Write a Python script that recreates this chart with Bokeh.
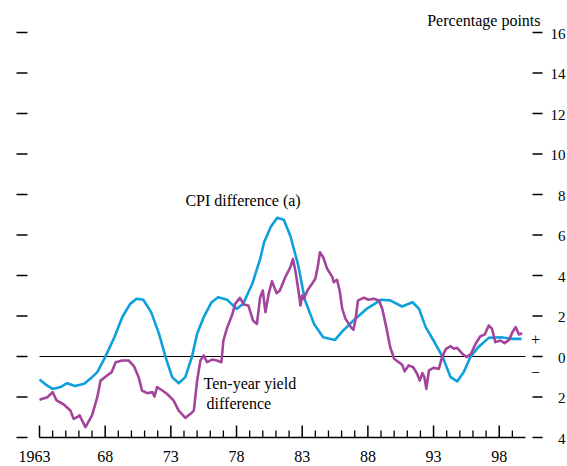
from bokeh.plotting import figure
from bokeh.models import Range1d
from bokeh.core.properties import value
from bokeh.embed import file_html
from bokeh.resources import INLINE

# ---------------- data ----------------
cpi_years = [1963.0, 1963.5, 1964.0, 1964.6, 1965.1, 1965.7, 1966.4, 1967.0, 1967.4, 1968.0,
             1968.7, 1969.3, 1969.9, 1970.4, 1970.9, 1971.5, 1972.1, 1972.6, 1973.1, 1973.6,
             1974.1, 1974.6, 1975.0, 1975.5, 1976.1, 1976.6, 1977.3, 1978.0, 1978.5, 1979.2,
             1979.8, 1980.1, 1980.6, 1981.1, 1981.6, 1982.1, 1982.7, 1983.2, 1983.9, 1984.6,
             1985.5, 1986.0, 1986.9, 1987.9, 1989.0, 1989.7, 1990.6, 1991.4, 1991.9, 1992.4,
             1993.0, 1993.7, 1994.3, 1994.8, 1995.3, 1995.8, 1996.4, 1997.2, 1998.1, 1999.0,
             1999.7]
cpi_diff = [-1.14, -1.40, -1.60, -1.51, -1.32, -1.46, -1.35, -1.02, -0.77, -0.03,
            0.95, 1.94, 2.60, 2.85, 2.80, 2.19, 1.12, -0.03, -1.02, -1.32,
            -1.02, -0.03, 1.12, 1.94, 2.68, 2.93, 2.80, 2.35, 2.60, 3.59,
            4.82, 5.64, 6.39, 6.85, 6.75, 5.95, 4.50, 2.80, 1.61, 0.95,
            0.82, 1.20, 1.78, 2.35, 2.80, 2.77, 2.47, 2.68, 2.35, 1.45,
            0.79, -0.03, -1.02, -1.23, -0.77, -0.03, 0.46, 0.92, 0.95, 0.87,
            0.87]

yield_years = [1963.0, 1963.6, 1964.0, 1964.3, 1964.85, 1965.35, 1965.6, 1965.85, 1966.05, 1966.5,
               1967.0, 1967.4, 1967.65, 1968.15, 1968.5, 1968.8, 1969.3, 1969.8, 1970.2, 1970.55,
               1970.8, 1971.2, 1971.6, 1971.75, 1971.95, 1972.35, 1972.7, 1973.2, 1973.6, 1974.1,
               1974.5, 1974.75, 1975.0, 1975.25, 1975.5, 1975.75, 1976.15, 1976.5, 1976.85, 1977.0,
               1977.3, 1977.65, 1977.9, 1978.25, 1978.55, 1978.9, 1979.25, 1979.55, 1979.8, 1980.0,
               1980.2, 1980.45, 1980.7, 1981.05, 1981.3, 1981.7, 1982.1, 1982.3, 1982.5, 1982.75,
               1982.87, 1983.0, 1983.12, 1983.4, 1983.75, 1984.0, 1984.2, 1984.35, 1984.6, 1984.9,
               1985.3, 1985.4, 1985.65, 1985.85, 1986.05, 1986.3, 1986.7, 1986.9, 1987.05, 1987.25,
               1987.7, 1988.05, 1988.45, 1988.85, 1989.1, 1989.4, 1989.7, 1990.0, 1990.35, 1990.6,
               1990.8, 1991.1, 1991.45, 1991.75, 1991.95, 1992.15, 1992.3, 1992.45, 1992.65, 1993.0,
               1993.4, 1993.65, 1993.95, 1994.3, 1994.55, 1994.8, 1995.2, 1995.5, 1995.85, 1996.2,
               1996.55, 1996.9, 1997.2, 1997.45, 1997.7, 1998.1, 1998.4, 1998.75, 1999.0, 1999.25,
               1999.5, 1999.75]
yield_diff = [-2.14, -2.01, -1.76, -2.17, -2.37, -2.67, -3.08, -3.00, -2.91, -3.49,
              -2.91, -2.01, -1.19, -0.94, -0.77, -0.28, -0.20, -0.20, -0.49, -1.02,
              -1.68, -1.81, -1.76, -1.98, -1.51, -1.68, -1.84, -2.17, -2.67, -3.03,
              -2.83, -2.67, -1.19, -0.20, 0.05, -0.28, -0.15, -0.20, -0.28, 0.79,
              1.45, 2.02, 2.60, 2.90, 2.57, 2.52, 1.78, 1.61, 2.93, 3.26,
              2.19, 3.10, 3.72, 3.13, 3.26, 3.90, 4.41, 4.82, 4.16, 3.10,
              2.52, 3.01, 2.85, 3.26, 3.59, 3.84, 4.49, 5.15, 4.90, 4.33,
              3.92, 3.67, 3.79, 3.26, 2.35, 1.86, 1.45, 1.32, 1.78, 2.77,
              2.90, 2.80, 2.85, 2.77, 2.35, 1.45, 0.46, -0.11, -0.28, -0.40,
              -0.73, -0.44, -0.53, -0.85, -1.19, -0.82, -1.02, -1.60, -0.69, -0.56,
              -0.61, -0.03, 0.38, 0.51, 0.38, 0.43, 0.13, -0.03, 0.13, 0.63,
              0.99, 1.09, 1.53, 1.37, 0.71, 0.79, 0.66, 0.82, 1.20, 1.45,
              1.09, 1.15]

year_ticks = [1963, 1968, 1973, 1978, 1983, 1988, 1993, 1998]
year_labels = ["1963", "68", "73", "78", "83", "88", "93", "98"]
minor_years = [y for y in range(1964, 2000) if y not in year_ticks]
value_ticks = [-4, -2, 0, 2, 4, 6, 8, 10, 12, 14, 16]
value_labels = ["4", "2", "0", "2", "4", "6", "8", "10", "12", "14", "16"]

# ---------------- geometry ----------------
W, H = 567, 466
XPX = 13.135          # pixels per year
YPX = 20.25           # pixels per percentage point
x_start = 1963 - 39 / XPX
x_end = x_start + W / XPX
y_end = 356 / YPX
y_start = y_end - H / YPX

def dx(px):
    return x_start + px / XPX

def dy(px):
    return y_end - px / YPX

BLUE = "#0ea0dc"
PURPLE = "#a3459c"
FONT = "Liberation Serif"

p = figure(width=W, height=H, output_backend="svg", toolbar_location=None,
           x_range=Range1d(x_start, x_end), y_range=Range1d(y_start, y_end),
           x_axis_location=None, y_axis_location=None,
           min_border=0, outline_line_color=None, background_fill_color="white",
           border_fill_color="white")
p.xgrid.visible = False
p.ygrid.visible = False

# zero line
p.line([1963, 2000], [0, 0], line_color="black", line_width=1.2)

# x axis (line, major & minor ticks)
p.line([1963, 2000], [-4, -4], line_color="black", line_width=1.5)
p.segment(x0=year_ticks, y0=[-4] * len(year_ticks), x1=year_ticks,
          y1=[-4 + 12 / YPX] * len(year_ticks), line_color="black", line_width=1.5)
p.segment(x0=minor_years, y0=[-4] * len(minor_years), x1=minor_years,
          y1=[-4 + 7 / YPX] * len(minor_years), line_color="black", line_width=1.3)

# value dashes on both sides
n = len(value_ticks)
p.segment(x0=[dx(16)] * n, y0=value_ticks, x1=[dx(27)] * n, y1=value_ticks,
          line_color="black", line_width=1.5)
p.segment(x0=[dx(532)] * n, y0=value_ticks, x1=[dx(542)] * n, y1=value_ticks,
          line_color="black", line_width=1.5)

# series
p.line(cpi_years, cpi_diff, line_color=BLUE, line_width=2.6, line_join="round")
p.line(yield_years, yield_diff, line_color=PURPLE, line_width=2.6, line_join="round")

# value labels (right)
p.text(x=[dx(565)] * n, y=value_ticks, text=value_labels, text_align="right",
       text_baseline="middle", y_offset=1, text_font=value(FONT),
       text_font_size="15px", text_color="black")

# year labels (bottom)
p.text(x=year_ticks[1:], y=[dy(456)] * (len(year_ticks) - 1), text=year_labels[1:],
       text_align="center", text_baseline="middle", text_font=value(FONT),
       text_font_size="16px", text_color="black")
p.text(x=year_ticks[:1], y=[dy(456)], text=year_labels[:1], x_offset=-5,
       text_align="center", text_baseline="middle", text_font=value(FONT),
       text_font_size="16px", text_color="black")

# annotations
p.text(x=[dx(540)], y=[dy(20)], text=["Percentage points"], text_align="right",
       text_baseline="middle", text_font=value(FONT), text_font_size="16px",
       text_color="black")
p.text(x=[1974.11], y=[7.70], text=["CPI difference (a)"], text_align="left",
       text_baseline="middle", text_font=value(FONT), text_font_size="16px",
       text_color="black")
p.text(x=[1975.49, 1975.72], y=[-1.33, -2.32], text=["Ten-year yield", "difference"],
       text_align="left", text_baseline="middle", text_font=value(FONT),
       text_font_size="16px", text_color="black")
p.text(x=[dx(535), dx(535)], y=[dy(339), dy(372)], text=["+", "\u2212"],
       text_align="center", text_baseline="middle", text_font=value(FONT),
       text_font_size="16px", text_color="black")

open("out.html", "w").write(file_html(p, INLINE))
